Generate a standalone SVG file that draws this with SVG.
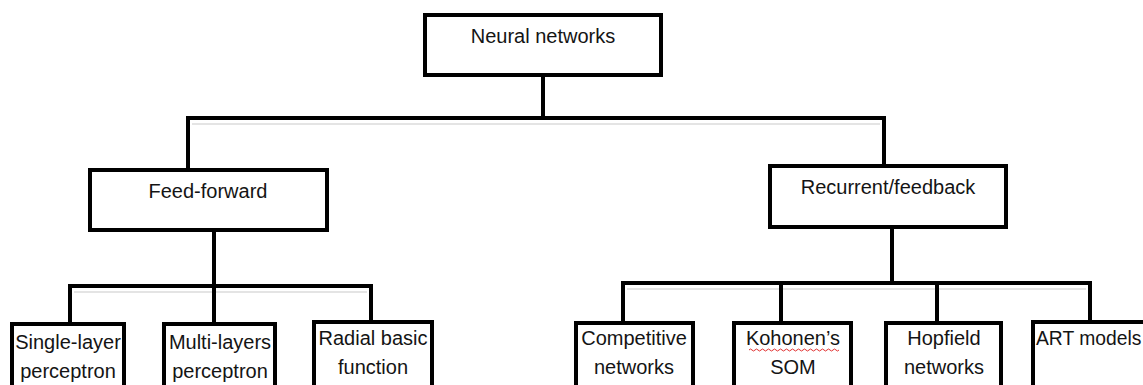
<svg xmlns="http://www.w3.org/2000/svg" width="1143" height="385" viewBox="0 0 1143 385">
<style>
.box{fill:#fff;stroke:#000;stroke-width:4}
.ln{fill:none;stroke:#000;stroke-width:4;stroke-linejoin:miter;stroke-linecap:square}
.sh{fill:none;stroke:#e4e4e4;stroke-width:2}
text{font-family:"Liberation Sans",Arial,sans-serif;font-size:20px;fill:#141414}
.c{text-anchor:middle}
</style>
<rect width="1143" height="385" fill="#fff"/>
<g id="connectors">
<line class="sh" x1="192" y1="124" x2="880" y2="124"/>
<line class="sh" x1="74" y1="292" x2="367" y2="292"/>
<line class="sh" x1="627" y1="289" x2="1086" y2="289"/>
<path class="ln" d="M543 77V118"/>
<path class="ln" d="M188 168V118H884V164"/>
<path class="ln" d="M214 232V286"/>
<path class="ln" d="M70 322V286H371V320"/>
<path class="ln" d="M214 286V322"/>
<path class="ln" d="M892 229V283"/>
<path class="ln" d="M623 321V283H1090V320"/>
<path class="ln" d="M781 283V321"/>
<path class="ln" d="M937 283V321"/>
</g>
<g id="neural-networks">
<rect class="box" x="425" y="15" width="236" height="60"/>
<text class="c" x="543" y="43">Neural networks</text>
</g>
<g id="feed-forward">
<rect class="box" x="90" y="170" width="237" height="60"/>
<text class="c" x="208" y="198">Feed-forward</text>
</g>
<g id="recurrent-feedback">
<rect class="box" x="770" y="166" width="236" height="61"/>
<text class="c" x="888" y="194">Recurrent/feedback</text>
</g>
<g id="single-layer">
<rect class="box" x="12" y="324" width="112" height="100"/>
<text class="c" x="68" y="349">Single-layer</text>
<text class="c" x="68" y="378">perceptron</text>
</g>
<g id="multi-layers">
<rect class="box" x="164" y="324" width="111" height="100"/>
<text class="c" x="220" y="349">Multi-layers</text>
<text class="c" x="220" y="378">perceptron</text>
</g>
<g id="radial">
<rect class="box" x="314" y="322" width="118" height="100"/>
<text class="c" x="373" y="345">Radial basic</text>
<text class="c" x="373" y="374">function</text>
</g>
<g id="competitive">
<rect class="box" x="576" y="323" width="117" height="100"/>
<text class="c" x="634" y="345">Competitive</text>
<text class="c" x="634" y="374">networks</text>
</g>
<g id="kohonen">
<rect class="box" x="734" y="323" width="117" height="100"/>
<text class="c" x="793" y="345">Kohonen’s</text>
<path d="M749 350q1.5 -2 3 0t3 0t3 0t3 0t3 0t3 0t3 0t3 0t3 0t3 0t3 0t3 0t3 0t3 0t3 0t3 0t3 0t3 0t3 0t3 0t3 0t3 0t3 0t3 0t3 0t3 0t3 0t3 0t3 0t3 0" fill="none" stroke="#e03030" stroke-width="1"/>
<text class="c" x="793" y="374">SOM</text>
</g>
<g id="hopfield">
<rect class="box" x="886" y="323" width="115" height="100"/>
<text class="c" x="944" y="345">Hopfield</text>
<text class="c" x="944" y="374">networks</text>
</g>
<g id="art">
<rect class="box" x="1033" y="322" width="200" height="100"/>
<text x="1036" y="345" style="font-size:19.3px">ART models</text>
</g>
</svg>
